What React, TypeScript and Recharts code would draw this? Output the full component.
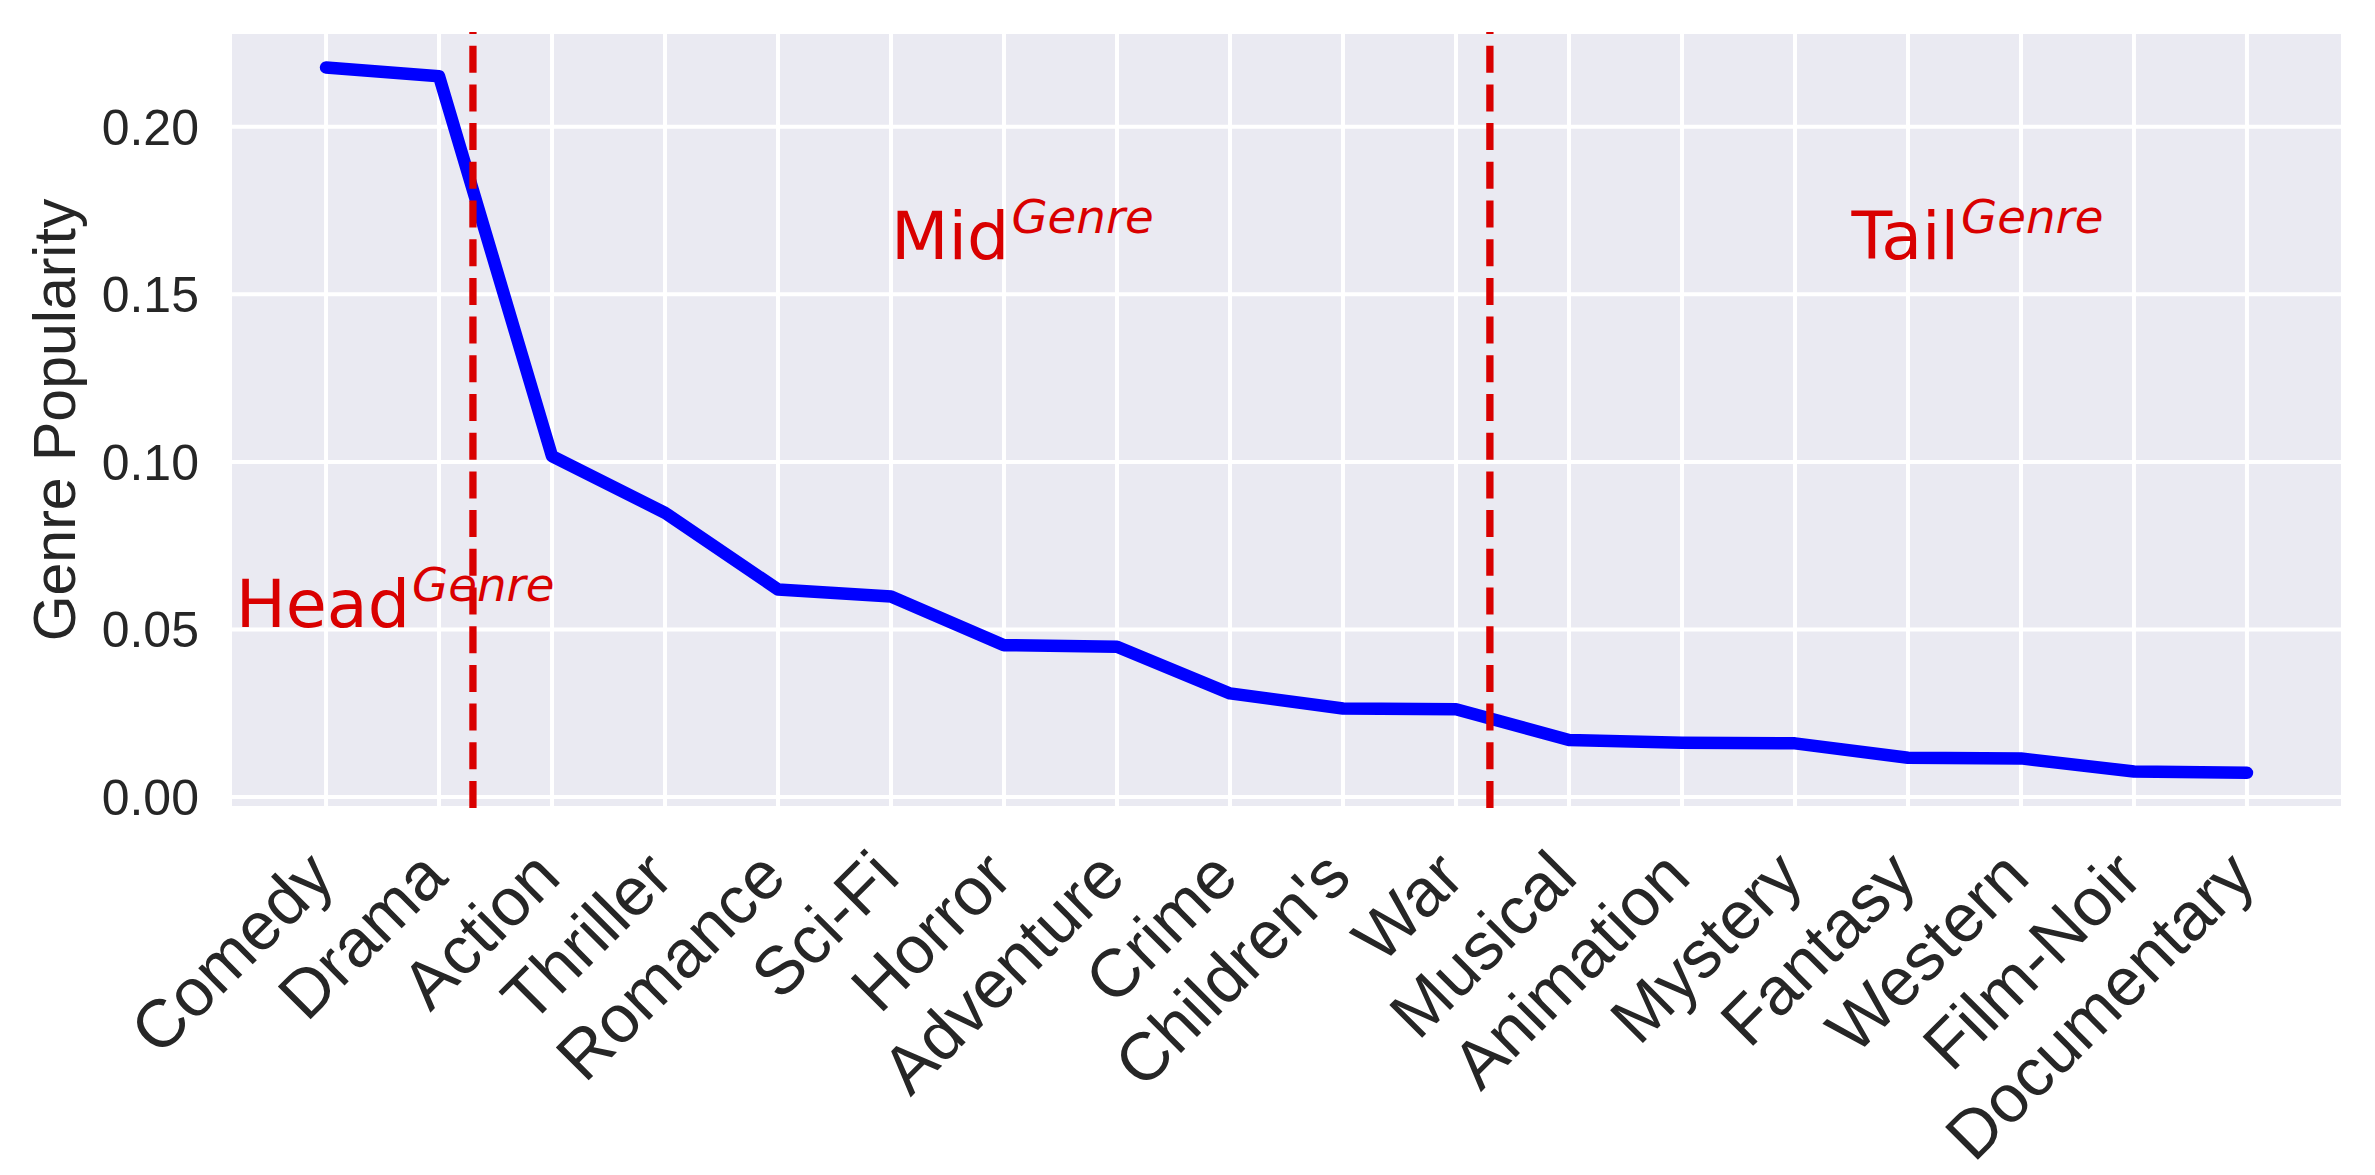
import React from 'react';
import { LineChart, Line, XAxis, YAxis, CartesianGrid, ReferenceLine, ReferenceDot } from 'recharts';

const genres = [
  'Comedy', 'Drama', 'Action', 'Thriller', 'Romance', 'Sci-Fi', 'Horror', 'Adventure', 'Crime',
  "Children's", 'War', 'Musical', 'Animation', 'Mystery', 'Fantasy', 'Western', 'Film-Noir', 'Documentary',
];
const popularity = [
  0.2177, 0.2151, 0.1017, 0.0848, 0.0619, 0.0598, 0.0453, 0.0448, 0.0309,
  0.0264, 0.0262, 0.017, 0.0162, 0.016, 0.0117, 0.0115, 0.0076, 0.0072,
];
const yTicks = [0, 0.05, 0.1, 0.15, 0.2];
const boundaries = [1.3, 10.3];
const groupNames = ['Head', 'Mid', 'Tail'];
const groupX = [-0.8, 5, 13.5];
const groupY = [0.05, 0.16, 0.16];
const superscript = 'Genre';
const yLabel = 'Genre Popularity';

const data = genres.map((g, i) => ({ idx: i, genre: g, value: popularity[i] }));
const xTickValues = genres.map((_, i) => i);

const RED = '#D90000';
const TEXT = '#262626';
const SANS = '"Liberation Sans", Arial, Helvetica, sans-serif';
const DEJAVU = '"DejaVu Sans", sans-serif';

const XTick = (props: any) => {
  const { x, y, payload } = props;
  const ax = x + 11;
  const ay = y + 72;
  return (
    <text
      x={ax}
      y={ay}
      transform={`rotate(-45 ${ax} ${ay})`}
      textAnchor="end"
      fontSize={67.5}
      fontFamily={SANS}
      fill={TEXT}
    >
      {genres[payload.value]}
    </text>
  );
};

const YTick = (props: any) => {
  const { x, y, payload } = props;
  return (
    <text x={x - 31} y={y} dy="0.36em" textAnchor="end" fontSize={50} fontFamily={SANS} fill={TEXT}>
      {Number(payload.value).toFixed(2)}
    </text>
  );
};

const YLabel = (props: any) => {
  const vb = props.viewBox || { x: 0, y: 32, width: 230, height: 776 };
  const lx = vb.x + 75;
  const ly = vb.y + vb.height / 2;
  return (
    <text
      x={lx}
      y={ly}
      transform={`rotate(-90 ${lx} ${ly})`}
      textAnchor="middle"
      fontSize={59}
      fontFamily={SANS}
      fill={TEXT}
    >
      {yLabel}
    </text>
  );
};

const groupShape = (name: string) => (p: any) => (
  <text x={p.cx} y={p.cy - 2} fontFamily={DEJAVU} fontSize={66.7} fill={RED}>
    {name}
    <tspan dx={2} dy={-26} fontSize={46.7} fontStyle="italic">
      {superscript}
    </tspan>
  </text>
);

export default function App() {
  return (
    <div style={{ position: 'absolute', left: 0, top: 0, width: 2375, height: 1175, background: '#fff' }}>
      <LineChart width={2375} height={1175} data={data} margin={{ top: 32, right: 32, left: 0, bottom: 0 }}>
        <CartesianGrid fill="#EAEAF2" stroke="#FFFFFF" strokeWidth={4} />
        <XAxis
          dataKey="idx"
          type="number"
          domain={[-0.85, 17.85]}
          ticks={xTickValues}
          interval={0}
          allowDataOverflow
          height={367}
          axisLine={false}
          tickLine={false}
          tickSize={0}
          tickMargin={0}
          tick={<XTick />}
        />
        <YAxis
          type="number"
          domain={[-0.0033, 0.2283]}
          ticks={yTicks}
          interval={0}
          allowDataOverflow
          width={230}
          axisLine={false}
          tickLine={false}
          tickSize={0}
          tickMargin={0}
          tick={<YTick />}
          label={<YLabel />}
        />
        <Line
          type="linear"
          dataKey="value"
          stroke="#0000FF"
          strokeWidth={12.5}
          strokeLinecap="round"
          strokeLinejoin="round"
          dot={false}
          activeDot={false}
          isAnimationActive={false}
        />
        {boundaries.map((b) => (
          <ReferenceLine key={b} x={b} stroke={RED} strokeWidth={7.3} strokeDasharray="27 11.7" />
        ))}
        {groupNames.map((n, i) => (
          <ReferenceDot key={n} x={groupX[i]} y={groupY[i]} r={1} shape={groupShape(n)} />
        ))}
      </LineChart>
    </div>
  );
}
